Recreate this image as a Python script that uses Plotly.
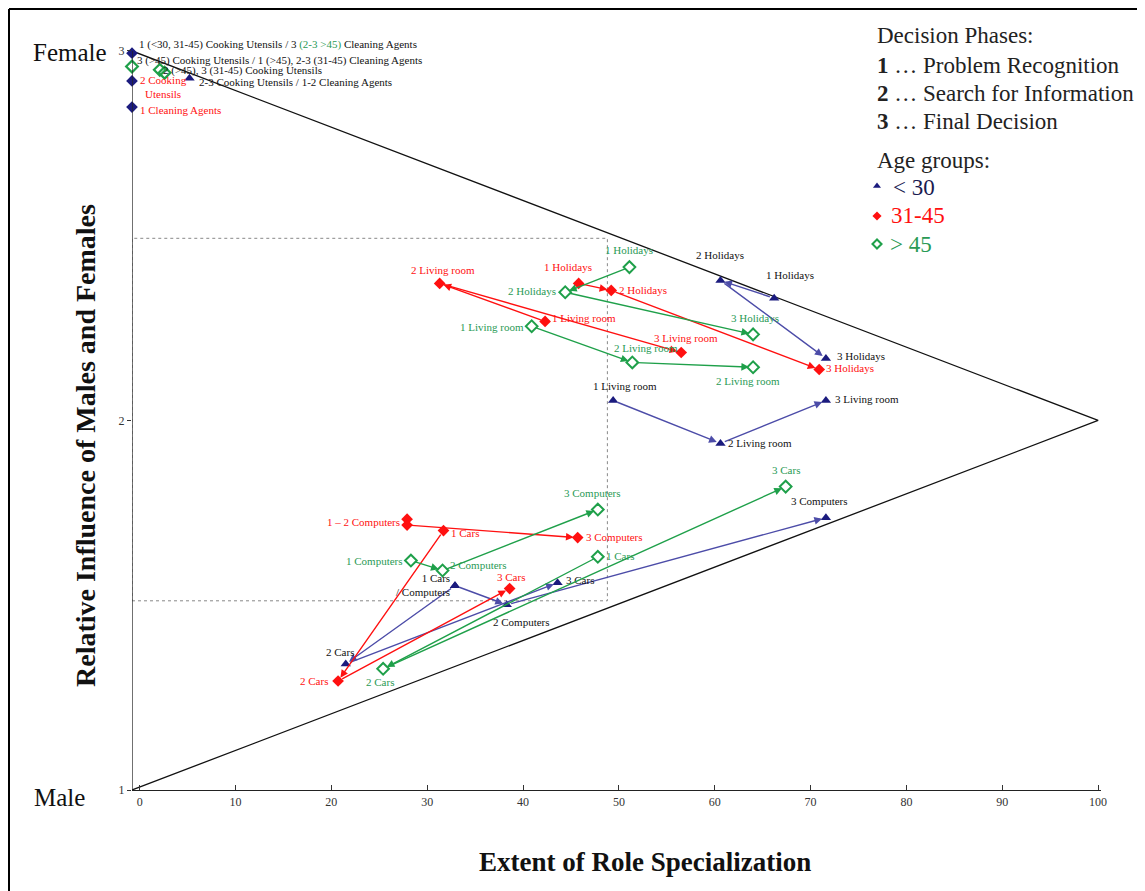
import plotly.graph_objects as go

# ------------------------------------------------------------------ data
X_MIN, X_MAX = -0.8, 100.3
Y_MIN, Y_MAX = 1.0, 3.1

age_groups = ["< 30", "31-45", "> 45"]
products = ["Holidays", "Living room", "Computers", "Cars"]
x_tick_vals = [0, 10, 20, 30, 40, 50, 60, 70, 80, 90, 100]
y_tick_vals = [1, 2, 3]

# values for decision phases 1, 2, 3
u30_holidays_x = [66.2, 60.6, 71.6]
u30_holidays_y = [2.331, 2.379, 2.168]
u30_living_x = [49.4, 60.6, 71.6]
u30_living_y = [2.054, 1.938, 2.054]
u30_computers_x = [32.9, 38.3, 71.6]
u30_computers_y = [1.553, 1.501, 1.737]
u30_cars_x = [32.9, 21.5, 43.6]
u30_cars_y = [1.553, 1.341, 1.561]

m3145_holidays_x = [45.8, 49.2, 70.9]
m3145_holidays_y = [2.371, 2.352, 2.138]
m3145_living_x = [42.3, 31.3, 56.5]
m3145_living_y = [2.268, 2.371, 2.184]
m3145_computers_x = [27.9, 27.9, 45.7]
m3145_computers_y = [1.733, 1.717, 1.683]
m3145_cars_x = [31.7, 20.7, 38.6]
m3145_cars_y = [1.702, 1.295, 1.545]

o45_holidays_x = [51.1, 44.4, 64.0]
o45_holidays_y = [2.415, 2.347, 2.233]
o45_living_x = [40.9, 51.4, 64.0]
o45_living_y = [2.255, 2.157, 2.144]
o45_computers_x = [28.3, 31.6, 47.8]
o45_computers_y = [1.621, 1.594, 1.759]
o45_cars_x = [47.8, 25.4, 67.4]
o45_cars_y = [1.631, 1.328, 1.821]

# labels per phase
u30_labels = {
    "Holidays": ["1 Holidays", "2 Holidays", "3 Holidays"],
    "Living room": ["1 Living room", "2 Living room", "3 Living room"],
    "Computers": ["", "2 Computers", "3 Computers"],
    "Cars": ["1 Cars<br>/ Computers", "2 Cars", "3 Cars"],
}
m3145_labels = {
    "Holidays": ["1 Holidays", "2 Holidays", "3 Holidays"],
    "Living room": ["1 Living room", "2 Living room", "3 Living room"],
    "Computers": ["1 \u2013 2 Computers", "", "3 Computers"],
    "Cars": ["1 Cars", "2 Cars", "3 Cars"],
}
o45_labels = {
    "Holidays": ["1 Holidays", "2 Holidays", "3 Holidays"],
    "Living room": ["1 Living room", "2 Living room", "2 Living room"],
    "Computers": ["1 Computers", "2 Computers", "3 Computers"],
    "Cars": ["1 Cars", "2 Cars", "3 Cars"],
}

# household products (cooking utensils / cleaning agents) near the female corner
hh_x = [-0.8, -0.8, 2.1, 2.6, 5.2, -0.8, -0.8]
hh_y = [2.994, 2.958, 2.949, 2.941, 2.926, 2.919, 2.848]
hh_kind = ["navy_d", "green_d", "green_d", "green_d", "navy_t", "navy_d", "navy_d"]

# reference triangle and dotted box
tri_x = [X_MIN, 100, X_MIN]
tri_y = [3, 2, 1]
box_x = [X_MIN, 48.8]
box_y = [1.512, 2.493]

# ------------------------------------------------------------------ styles
OFF = 8                      # page body margin of the html page
W, H = 1145 - OFF, 891 - OFF
ML, MR, MT, MB = 124, 44, 6, 101
PW, PH = W - ML - MR, H - MT - MB
SERIF = "Liberation Serif, Times New Roman, serif"

NAVY = "#1b1b7e"
NAVY_LINE = "#4c4ca8"
RED = "#ff1010"
GREEN = "#1fa04a"
GREEN_TXT = "#2a9a55"

style = {
    "< 30": dict(marker=dict(symbol="triangle-up", size=9, color=NAVY),
                 line=NAVY_LINE, text="#111111"),
    "31-45": dict(marker=dict(symbol="diamond", size=9, color=RED),
                  line=RED, text=RED),
    "> 45": dict(marker=dict(symbol="diamond-open", size=9, color=GREEN,
                             line=dict(width=2, color=GREEN)),
                 line=GREEN, text=GREEN_TXT),
}

# label offsets in pixels (anchor, dx, dy[down positive])
offsets = {
    ("< 30", "Holidays"): [("center", 16, -23), ("center", 0, -25), ("left", 9, -2)],
    ("< 30", "Living room"): [("center", 12, -15), ("left", 6, 0), ("left", 7, -2)],
    ("< 30", "Computers"): [("center", 0, 0), ("center", 15, 17), ("center", -6, -17)],
    ("< 30", "Cars"): [("right", -3, -1), ("center", -6, -12), ("left", 6, -3)],
    ("31-45", "Holidays"): [("center", -11, -16), ("left", 6, 0), ("left", 5, -1)],
    ("31-45", "Living room"): [("left", 5, -3), ("center", 3, -13), ("center", 5, -14)],
    ("31-45", "Computers"): [("right", -5, 3), ("center", 0, 0), ("left", 6, -1)],
    ("31-45", "Cars"): [("left", 5, 2), ("right", -8, 0), ("center", 1, -12)],
    ("> 45", "Holidays"): [("center", 0, -17), ("right", -7, -1), ("center", 2, -16)],
    ("> 45", "Living room"): [("right", -6, 1), ("center", 14, -14), ("center", -5, 14)],
    ("> 45", "Computers"): [("right", -6, 0), ("left", 5, -6), ("center", -5, -17)],
    ("> 45", "Cars"): [("left", 6, -1), ("center", -3, 13), ("center", 0, -17)],
}

series = {
    "< 30": {
        "Holidays": (u30_holidays_x, u30_holidays_y),
        "Living room": (u30_living_x, u30_living_y),
        "Computers": (u30_computers_x, u30_computers_y),
        "Cars": (u30_cars_x, u30_cars_y),
    },
    "31-45": {
        "Holidays": (m3145_holidays_x, m3145_holidays_y),
        "Living room": (m3145_living_x, m3145_living_y),
        "Computers": (m3145_computers_x, m3145_computers_y),
        "Cars": (m3145_cars_x, m3145_cars_y),
    },
    "> 45": {
        "Holidays": (o45_holidays_x, o45_holidays_y),
        "Living room": (o45_living_x, o45_living_y),
        "Computers": (o45_computers_x, o45_computers_y),
        "Cars": (o45_cars_x, o45_cars_y),
    },
}
labels = {"< 30": u30_labels, "31-45": m3145_labels, "> 45": o45_labels}


# page-pixel positions (as in the reference picture) -> paper coordinates
def pxx(xp):
    return (xp - OFF - ML) / PW


def pxy(yp):
    return 1 - (yp - OFF - MT) / PH


fig = go.Figure()
annotations = []
shapes = []

# triangle
fig.add_trace(go.Scatter(x=tri_x, y=tri_y, mode="lines",
                         line=dict(color="#111111", width=1.3),
                         hoverinfo="skip", showlegend=False))

# dotted box
shapes.append(dict(type="rect", xref="x", yref="y",
                   x0=box_x[0], x1=box_x[1], y0=box_y[0], y1=box_y[1],
                   line=dict(color="#888888", width=1, dash="dot"), layer="below"))
# left axis line
shapes.append(dict(type="line", xref="x", yref="y", x0=X_MIN, x1=X_MIN,
                   y0=1, y1=3, line=dict(color="#222222", width=1.3)))
# figure frame (left + top)
shapes.append(dict(type="line", xref="paper", yref="paper",
                   x0=pxx(9), x1=pxx(1160), y0=pxy(9), y1=pxy(9),
                   line=dict(color="black", width=2)))
shapes.append(dict(type="line", xref="paper", yref="paper",
                   x0=pxx(9), x1=pxx(9), y0=pxy(9), y1=pxy(900),
                   line=dict(color="black", width=2)))

# arrows + markers + labels
for g in age_groups:
    st = style[g]
    for p in products:
        xs, ys = series[g][p]
        for i in range(2):
            annotations.append(dict(
                x=xs[i + 1], y=ys[i + 1], ax=xs[i], ay=ys[i],
                xref="x", yref="y", axref="x", ayref="y",
                text="", showarrow=True, arrowhead=2, arrowsize=1.1,
                arrowwidth=1.4, arrowcolor=st["line"], standoff=4,
                startstandoff=3))
        fig.add_trace(go.Scatter(x=xs, y=ys, mode="markers", marker=st["marker"],
                                 name=f"{g} {p}", showlegend=False,
                                 hoverinfo="x+y+name"))
        for i, txt in enumerate(labels[g][p]):
            if not txt:
                continue
            anc, dx, dy = offsets[(g, p)][i]
            annotations.append(dict(
                x=xs[i], y=ys[i], xref="x", yref="y", text=txt,
                showarrow=False, xanchor=anc, yanchor="middle", align=anc,
                xshift=dx, yshift=-dy,
                font=dict(family=SERIF, size=11, color=st["text"])))

# household points
hh_styles = {
    "navy_d": dict(symbol="diamond", size=9, color=NAVY),
    "navy_t": dict(symbol="triangle-up", size=9, color=NAVY),
    "green_d": dict(symbol="diamond-open", size=9, color=GREEN,
                    line=dict(width=2.2, color=GREEN)),
}
for kind in ["green_d", "navy_t", "navy_d"]:
    xs = [x for x, k in zip(hh_x, hh_kind) if k == kind]
    ys = [y for y, k in zip(hh_y, hh_kind) if k == kind]
    fig.add_trace(go.Scatter(x=xs, y=ys, mode="markers", marker=hh_styles[kind],
                             showlegend=False, hoverinfo="x+y", cliponaxis=False))

hh_texts = [
    ("1 (&lt;30, 31-45) Cooking Utensils / 3 <span style='color:%s'>(2-3 &gt;45)</span> Cleaning Agents" % GREEN_TXT,
     137, 45, "#111111", "left"),
    ("3 (&gt;45) Cooking Utensils / 1 (&gt;45), 2-3 (31-45) Cleaning Agents", 135, 60, "#111111", "left"),
    ("2 (&gt;45), 3 (31-45) Cooking Utensils", 161, 71, "#111111", "left"),
    ("2-3 Cooking Utensils / 1-2 Cleaning Agents", 197, 82, "#111111", "left"),
    ("2 Cooking<br>Utensils", 138, 87, RED, "center"),
    ("1 Cleaning Agents", 138, 110, RED, "left"),
]
for txt, xp, yp, col, al in hh_texts:
    annotations.append(dict(x=pxx(xp), y=pxy(yp), xref="paper", yref="paper",
                            text=txt, showarrow=False, xanchor="left",
                            yanchor="middle", align=al,
                            font=dict(family=SERIF, size=11, color=col)))

# corner labels and axis titles
annotations += [
    dict(x=pxx(109), y=pxy(52), xref="paper", yref="paper", text="Female",
         showarrow=False, xanchor="right", yanchor="middle",
         font=dict(family=SERIF, size=25, color="#111111")),
    dict(x=pxx(87), y=pxy(797), xref="paper", yref="paper", text="Male",
         showarrow=False, xanchor="right", yanchor="middle",
         font=dict(family=SERIF, size=25, color="#111111")),
    dict(x=pxx(645), y=pxy(862), xref="paper", yref="paper",
         text="<b>Extent of Role Specialization</b>", showarrow=False,
         xanchor="center", yanchor="middle",
         font=dict(family=SERIF, size=27, color="#111111")),
    dict(x=pxx(85), y=pxy(446), xref="paper", yref="paper",
         text="<b>Relative Influence of Males and Females</b>", showarrow=False,
         textangle=-90, xanchor="center", yanchor="middle",
         font=dict(family=SERIF, size=28, color="#111111")),
]

# legend block
leg_lines = [
    ("Decision Phases:", 875, 35, "#222222"),
    ("<b>1</b> \u2026 Problem Recognition", 875, 66, "#222222"),
    ("<b>2</b> \u2026 Search for Information", 875, 94, "#222222"),
    ("<b>3</b> \u2026 Final Decision", 875, 122, "#222222"),
    ("Age groups:", 875, 160, "#222222"),
    ("&lt; 30", 891, 187, "#1a1a50"),
    ("31-45", 889, 216, RED),
    ("&gt; 45", 888, 244, GREEN_TXT),
]
for txt, xp, yp, col in leg_lines:
    annotations.append(dict(x=pxx(xp), y=pxy(yp), xref="paper", yref="paper",
                            text=txt, showarrow=False, xanchor="left",
                            yanchor="middle",
                            font=dict(family=SERIF, size=23, color=col)))
leg_marker_px = [(877, 186), (877, 216), (877, 244)]
for g, (xp, yp) in zip(age_groups, leg_marker_px):
    m = dict(style[g]["marker"])
    m["size"] = 7
    fig.add_trace(go.Scatter(x=[pxx(xp)], y=[pxy(yp)], xaxis="x2", yaxis="y2",
                             mode="markers", marker=m, showlegend=False,
                             hoverinfo="skip", cliponaxis=False))

fig.update_layout(
    width=W, height=H,
    margin=dict(l=ML, r=MR, t=MT, b=MB),
    paper_bgcolor="white", plot_bgcolor="white",
    showlegend=False,
    annotations=annotations,
    shapes=shapes,
    xaxis=dict(range=[X_MIN, X_MAX], tickvals=x_tick_vals, showgrid=False,
               zeroline=False, showline=True, linecolor="#222222", linewidth=1.3,
               ticks="inside", ticklen=5, tickcolor="#333333",
               tickfont=dict(family=SERIF, size=12, color="#333333")),
    yaxis=dict(range=[Y_MIN, Y_MAX], tickvals=y_tick_vals, showgrid=False,
               zeroline=False, showline=False, ticks="outside", ticklen=4,
               tickcolor="#333333",
               tickfont=dict(family=SERIF, size=12, color="#333333")),
    xaxis2=dict(range=[0, 1], overlaying="x", visible=False, domain=[0, 1]),
    yaxis2=dict(range=[0, 1], overlaying="y", visible=False, domain=[0, 1]),
)

fig.write_html("out.html")
